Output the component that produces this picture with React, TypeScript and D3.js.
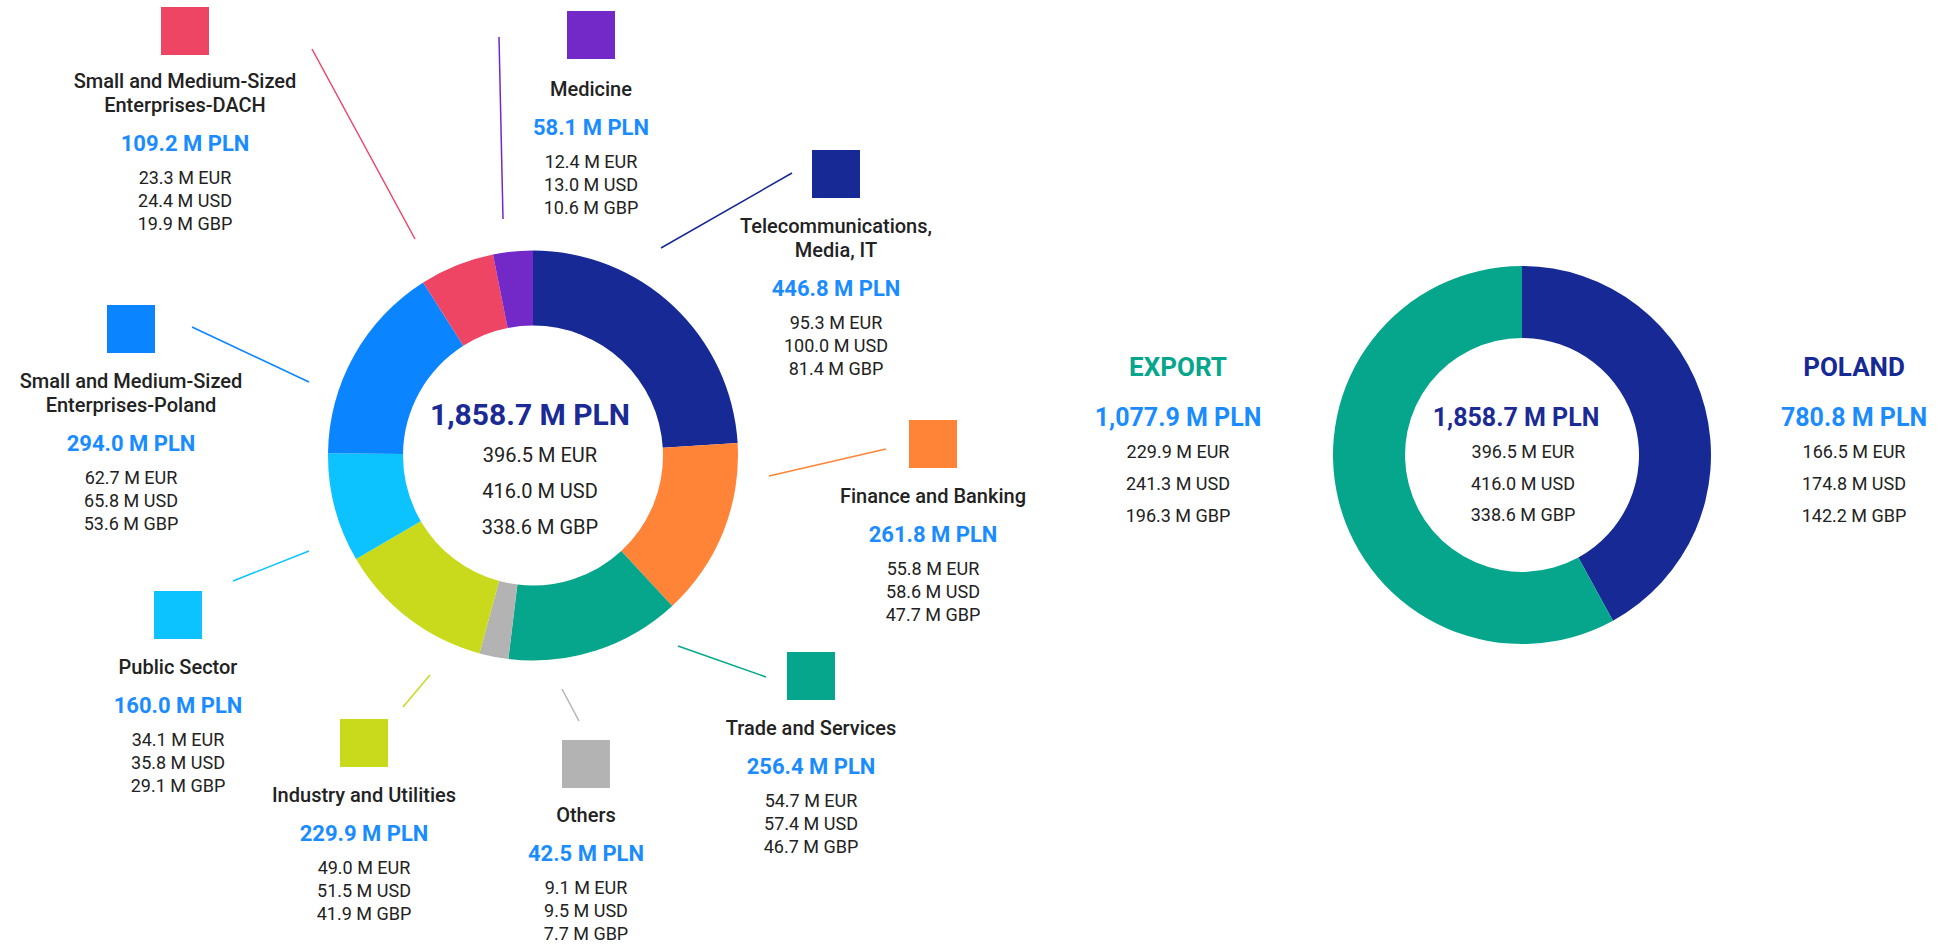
import React, { useEffect } from "react";
import * as d3 from "d3";

// ---------- DATA ----------
const sectorTitles: string[][] = [
  ["Telecommunications,", "Media, IT"],
  ["Finance and Banking"],
  ["Trade and Services"],
  ["Others"],
  ["Industry and Utilities"],
  ["Public Sector"],
  ["Small and Medium-Sized", "Enterprises-Poland"],
  ["Small and Medium-Sized", "Enterprises-DACH"],
  ["Medicine"],
];
const sectorPLN = [446.8, 261.8, 256.4, 42.5, 229.9, 160.0, 294.0, 109.2, 58.1];
const sectorEUR = [95.3, 55.8, 54.7, 9.1, 49.0, 34.1, 62.7, 23.3, 12.4];
const sectorUSD = [100.0, 58.6, 57.4, 9.5, 51.5, 35.8, 65.8, 24.4, 13.0];
const sectorGBP = [81.4, 47.7, 46.7, 7.7, 41.9, 29.1, 53.6, 19.9, 10.6];

const totalPLN = 1858.7;
const totalEUR = 396.5;
const totalUSD = 416.0;
const totalGBP = 338.6;

const regionNames = ["POLAND", "EXPORT"];
const regionPLN = [780.8, 1077.9];
const regionEUR = [166.5, 229.9];
const regionUSD = [174.8, 241.3];
const regionGBP = [142.2, 196.3];

// ---------- STYLES / LAYOUT ----------
const sectorColors = [
  "#172994", "#ff8438", "#05a68b", "#b3b3b3", "#c9d91b",
  "#0dc3ff", "#0a84ff", "#ee4565", "#7328c8",
];
const regionColors = ["#172994", "#05a68b"];
const BLUE = "#1a8cff";
const NAVY = "#1b2a94";
const TEXT = "#222222";
const FONT = "Roboto, 'Noto Sans', sans-serif";

// label anchor: square centre x, square top y, text shift, leader line (x1,y1,x2,y2)
const labelLayout = [
  { cx: 836, top: 150, dy: 0, line: [661, 248, 792, 173] },
  { cx: 933, top: 420, dy: 0, line: [769, 476, 886, 449] },
  { cx: 811, top: 652, dy: 0, line: [678, 646, 766, 677] },
  { cx: 586, top: 740, dy: -1, line: [562, 689, 579, 721] },
  { cx: 364, top: 719, dy: 0, line: [430, 675, 403, 707] },
  { cx: 178, top: 591, dy: 0, line: [309, 551, 233, 581] },
  { cx: 131, top: 305, dy: 0, line: [309, 382, 192, 327] },
  { cx: 185, top: 7, dy: -2, line: [415, 239, 312, 49] },
  { cx: 591, top: 11, dy: 2, line: [503, 219, 499, 37] },
];

const fmt = d3.format(",.1f");

export default function App() {
  useEffect(() => {
    document.body.style.margin = "0";
  }, []);

  const W = 1946;
  const H = 944;

  // left donut
  const L = { cx: 533, cy: 455.5, r0: 130, r1: 205 };
  const pie = d3.pie<number>().sort(null).value((d) => d);
  const arcL = d3.arc<d3.PieArcDatum<number>>().innerRadius(L.r0).outerRadius(L.r1);
  const sectorArcs = pie(sectorPLN);

  // right donut
  const R = { cx: 1522, cy: 455, r0: 117, r1: 189 };
  const arcR = d3.arc<d3.PieArcDatum<number>>().innerRadius(R.r0).outerRadius(R.r1);
  const regionArcs = pie(regionPLN);

  const SQ = 48;

  return (
    <svg
      width={W}
      height={H}
      style={{ position: "absolute", left: 0, top: 0, background: "#fff" }}
      fontFamily={FONT}
    >
      {/* leader lines */}
      {labelLayout.map((l, i) => (
        <line
          key={"ln" + i}
          x1={l.line[0]}
          y1={l.line[1]}
          x2={l.line[2]}
          y2={l.line[3]}
          stroke={sectorColors[i]}
          strokeWidth={1.5}
        />
      ))}

      {/* left donut */}
      <g transform={`translate(${L.cx},${L.cy})`}>
        {sectorArcs.map((a, i) => (
          <path key={"s" + i} d={arcL(a) || ""} fill={sectorColors[i]} />
        ))}
      </g>
      <text x={530} y={425} textAnchor="middle" fontSize={30} fontWeight={700} fill={NAVY}>
        {fmt(totalPLN)} M PLN
      </text>
      {[`${fmt(totalEUR)} M EUR`, `${fmt(totalUSD)} M USD`, `${fmt(totalGBP)} M GBP`].map((t, k) => (
        <text key={"lc" + k} x={540} y={462 + k * 36} textAnchor="middle" fontSize={20} fill={TEXT}>
          {t}
        </text>
      ))}

      {/* sector labels */}
      {labelLayout.map((l, i) => {
        const titles = sectorTitles[i];
        const t0 = l.top + SQ + 35 + l.dy;
        const valueY = t0 + (titles.length - 1) * 24 + 39;
        const cur = [
          `${fmt(sectorEUR[i])} M EUR`,
          `${fmt(sectorUSD[i])} M USD`,
          `${fmt(sectorGBP[i])} M GBP`,
        ];
        return (
          <g key={"lab" + i}>
            <rect x={l.cx - SQ / 2} y={l.top} width={SQ} height={SQ} fill={sectorColors[i]} />
            {titles.map((t, k) => (
              <text
                key={k}
                x={l.cx}
                y={t0 + k * 24}
                textAnchor="middle"
                fontSize={20}
                fontWeight={500}
                fill={TEXT}
              >
                {t}
              </text>
            ))}
            <text x={l.cx} y={valueY} textAnchor="middle" fontSize={22} fontWeight={700} fill={BLUE}>
              {fmt(sectorPLN[i])} M PLN
            </text>
            {cur.map((t, k) => (
              <text
                key={"c" + k}
                x={l.cx}
                y={valueY + 33 + k * 23.2}
                textAnchor="middle"
                fontSize={18}
                fill={TEXT}
              >
                {t}
              </text>
            ))}
          </g>
        );
      })}

      {/* right donut */}
      <g transform={`translate(${R.cx},${R.cy})`}>
        {regionArcs.map((a, i) => (
          <path key={"r" + i} d={arcR(a) || ""} fill={regionColors[i]} />
        ))}
      </g>
      <text x={1516} y={426} textAnchor="middle" fontSize={25} fontWeight={700} fill={NAVY}>
        {fmt(totalPLN)} M PLN
      </text>
      {[`${fmt(totalEUR)} M EUR`, `${fmt(totalUSD)} M USD`, `${fmt(totalGBP)} M GBP`].map((t, k) => (
        <text key={"rc" + k} x={1523} y={458 + k * 31.5} textAnchor="middle" fontSize={18} fill={TEXT}>
          {t}
        </text>
      ))}

      {/* region labels */}
      {regionNames.map((name, i) => {
        const cx = i === 0 ? 1854 : 1178;
        return (
          <g key={"reg" + i}>
            <text x={cx} y={376} textAnchor="middle" fontSize={26} fontWeight={700} fill={regionColors[i]}>
              {name}
            </text>
            <text x={cx} y={426} textAnchor="middle" fontSize={25} fontWeight={700} fill={BLUE}>
              {fmt(regionPLN[i])} M PLN
            </text>
            {[
              `${fmt(regionEUR[i])} M EUR`,
              `${fmt(regionUSD[i])} M USD`,
              `${fmt(regionGBP[i])} M GBP`,
            ].map((t, k) => (
              <text key={k} x={cx} y={458 + k * 32} textAnchor="middle" fontSize={18} fill={TEXT}>
                {t}
              </text>
            ))}
          </g>
        );
      })}
    </svg>
  );
}
